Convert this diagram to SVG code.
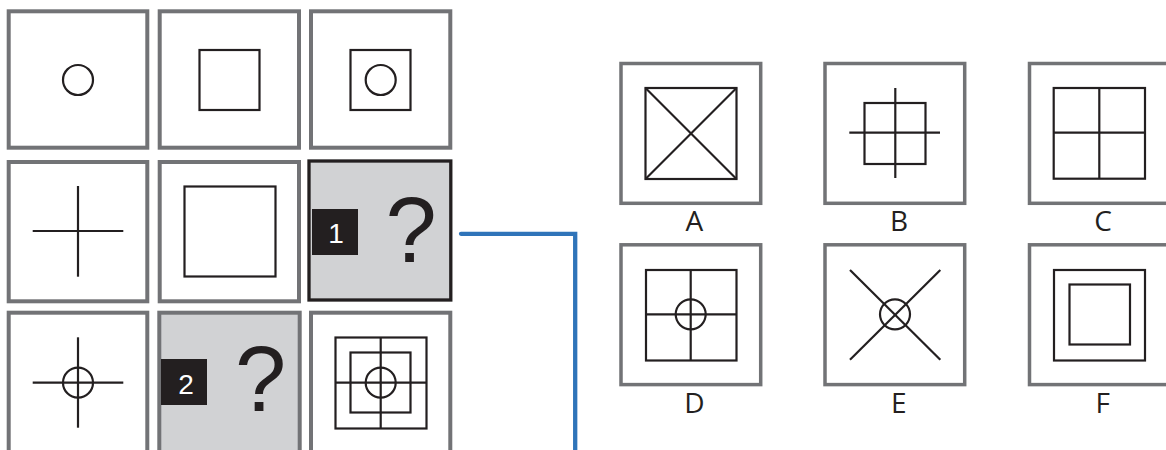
<svg xmlns="http://www.w3.org/2000/svg" width="1166" height="450" viewBox="0 0 1166 450">
<style>
.cell{fill:#ffffff;stroke:#727376;stroke-width:4}
.q{fill:#d1d2d4}
.sel{fill:#d1d2d4;stroke:#231f20;stroke-width:3.3}
.opt{fill:#ffffff;stroke:#727376;stroke-width:3.5}
.sh{fill:none;stroke:#231f20;stroke-width:2.2}
.badge{fill:#231f20}
.num{font-family:"Liberation Sans",Arial,sans-serif;font-size:28px;fill:#ffffff;text-anchor:middle}
.qm{font-family:"Liberation Sans",Arial,sans-serif;font-size:92px;fill:#231f20;text-anchor:middle}
.lbl{font-family:"Open Sans","Liberation Sans",sans-serif;font-size:28px;fill:#231f20;text-anchor:middle}
.conn{fill:none;stroke:#2f74b9;stroke-width:4.3;stroke-linecap:round;stroke-linejoin:miter}
</style>

<!-- Grid row 1 -->
<g id="r1c1">
<rect class="cell" x="8.7" y="11.3" width="138.6" height="136.4"/>
<circle class="sh" cx="78" cy="80" r="15"/>
</g>
<g id="r1c2">
<rect class="cell" x="159.7" y="11.3" width="139.3" height="136.4"/>
<rect class="sh" x="199.5" y="50" width="60" height="60"/>
</g>
<g id="r1c3">
<rect class="cell" x="311" y="11.3" width="139.3" height="136.4"/>
<rect class="sh" x="350.5" y="50" width="60" height="60"/>
<circle class="sh" cx="380.7" cy="80" r="15"/>
</g>

<!-- Grid row 2 -->
<g id="r2c1">
<rect class="cell" x="8.7" y="162" width="138.6" height="139.3"/>
<line class="sh" x1="78" y1="186" x2="78" y2="276.7"/>
<line class="sh" x1="32.7" y1="231" x2="123.3" y2="231"/>
</g>
<g id="r2c2">
<rect class="cell" x="159.7" y="162" width="139.3" height="139.3"/>
<rect class="sh" x="184.5" y="186.5" width="91" height="90"/>
</g>
<g id="r2c3">
<rect class="sel" x="309" y="161" width="141.8" height="139"/>
<rect class="badge" x="312" y="209" width="46" height="46"/>
<text class="num" x="336" y="243.3">1</text>
<text class="qm" x="411" y="261.7">?</text>
</g>

<!-- Grid row 3 -->
<g id="r3c1">
<rect class="cell" x="8.7" y="312.7" width="138.6" height="140"/>
<line class="sh" x1="78" y1="337.3" x2="78" y2="427.7"/>
<line class="sh" x1="32.7" y1="382.7" x2="123.3" y2="382.7"/>
<circle class="sh" cx="78" cy="382.7" r="15"/>
</g>
<g id="r3c2">
<rect class="cell q" x="159.3" y="312.7" width="140.4" height="140"/>
<rect class="badge" x="161" y="359" width="46" height="46"/>
<text class="num" x="186" y="393.7">2</text>
<text class="qm" x="260.5" y="411">?</text>
</g>
<g id="r3c3">
<rect class="cell" x="311" y="312.7" width="139.3" height="140"/>
<rect class="sh" x="335.5" y="337.5" width="91" height="91"/>
<rect class="sh" x="350.5" y="352.5" width="60" height="60"/>
<line class="sh" x1="380.7" y1="337.5" x2="380.7" y2="428.5"/>
<line class="sh" x1="335.5" y1="382.7" x2="426.5" y2="382.7"/>
<circle class="sh" cx="380.7" cy="382.7" r="15"/>
</g>

<!-- Connector -->
<g id="connectors">
<path class="conn" d="M461,233.8 H575.2 V452"/>
</g>

<!-- Options row 1 -->
<g id="optA">
<rect class="opt" x="621" y="63.5" width="139.7" height="139.8"/>
<rect class="sh" x="645.5" y="88" width="91" height="91"/>
<line class="sh" x1="645.5" y1="88" x2="736.5" y2="179"/>
<line class="sh" x1="736.5" y1="88" x2="645.5" y2="179"/>
<text class="lbl" x="694.3" y="231">A</text>
</g>
<g id="optB">
<rect class="opt" x="825" y="63.5" width="139.7" height="139.8"/>
<rect class="sh" x="864.5" y="103" width="61" height="61"/>
<line class="sh" x1="895.3" y1="88" x2="895.3" y2="178"/>
<line class="sh" x1="849.3" y1="132.7" x2="940" y2="132.7"/>
<text class="lbl" x="899" y="231">B</text>
</g>
<g id="optC">
<rect class="opt" x="1029.5" y="63.5" width="139.7" height="139.8"/>
<rect class="sh" x="1053.7" y="88" width="91.3" height="90.7"/>
<line class="sh" x1="1099.3" y1="88" x2="1099.3" y2="178.7"/>
<line class="sh" x1="1053.7" y1="132.7" x2="1145" y2="132.7"/>
<text class="lbl" x="1103" y="231">C</text>
</g>

<!-- Options row 2 -->
<g id="optD">
<rect class="opt" x="621" y="244.8" width="139.7" height="139.8"/>
<rect class="sh" x="646" y="270" width="90.5" height="90.5"/>
<line class="sh" x1="690.7" y1="270" x2="690.7" y2="360.5"/>
<line class="sh" x1="646" y1="314.3" x2="736.5" y2="314.3"/>
<circle class="sh" cx="690.7" cy="314.3" r="15"/>
<text class="lbl" x="694.3" y="413.3">D</text>
</g>
<g id="optE">
<rect class="opt" x="825" y="244.8" width="139.7" height="139.8"/>
<line class="sh" x1="850" y1="270" x2="940.3" y2="359.7"/>
<line class="sh" x1="940.3" y1="270" x2="850" y2="359.7"/>
<circle class="sh" cx="895" cy="314.3" r="15"/>
<text class="lbl" x="898.7" y="413.3">E</text>
</g>
<g id="optF">
<rect class="opt" x="1029.5" y="244.8" width="139.7" height="139.8"/>
<rect class="sh" x="1054" y="270" width="91" height="90.5"/>
<rect class="sh" x="1069.5" y="284.5" width="60.5" height="60"/>
<text class="lbl" x="1102.7" y="413.3">F</text>
</g>
</svg>
